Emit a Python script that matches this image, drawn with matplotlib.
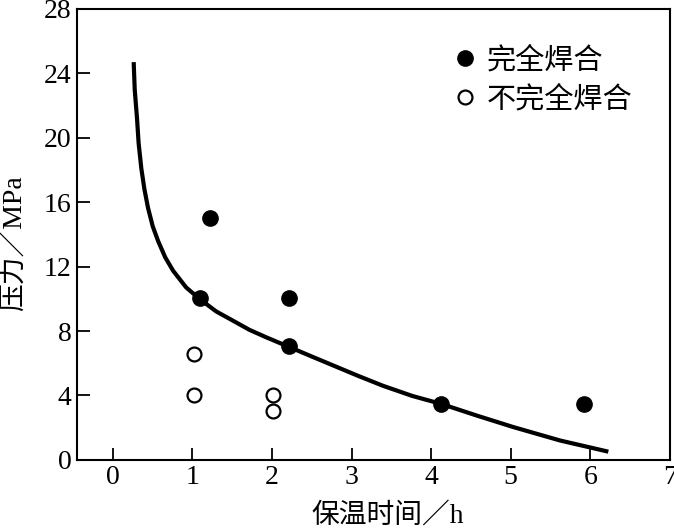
import matplotlib
matplotlib.use('Agg')
import matplotlib.pyplot as plt
from matplotlib.lines import Line2D

plt.rcParams['font.family'] = ['Liberation Serif', 'Noto Sans CJK SC']

# fitted curve
curve_t = [0.264, 0.277, 0.306, 0.326, 0.360, 0.399, 0.444, 0.503, 0.570, 0.660,
           0.760, 0.923, 1.090, 1.300, 1.509, 1.720, 1.930, 2.223, 2.496, 2.767,
           3.082, 3.396, 3.764, 4.131, 4.581, 5.031, 5.619, 6.226]
curve_p = [24.7, 23.0, 21.2, 19.67, 18.1, 16.8, 15.65, 14.51, 13.6, 12.58,
           11.74, 10.71, 10.0, 9.22, 8.65, 8.07, 7.61, 7.0, 6.43, 5.87,
           5.22, 4.60, 3.97, 3.47, 2.74, 2.04, 1.205, 0.51]

# 完全焊合
full_t = [1.22, 1.10, 2.21, 2.21, 4.12, 5.92]
full_p = [15.0, 10.05, 10.05, 7.1, 3.5, 3.5]

# 不完全焊合
part_t = [1.02, 1.02, 2.01, 2.01]
part_p = [6.55, 4.0, 4.0, 3.03]

fig = plt.figure(figsize=(6.74, 5.28), dpi=100)
ax = fig.add_axes([0.114, 0.129, 0.880, 0.854])

ax.plot(curve_t, curve_p, color='black', lw=3, solid_capstyle='butt',
        solid_joinstyle='round')
ax.plot(full_t, full_p, 'o', color='black', ms=11)
ax.plot(part_t, part_p, 'o', mfc='white', mec='black', mew=1.6, ms=10)

ax.set_xlim(-0.45, 7)
ax.set_ylim(0, 28)
ax.set_xticks(range(0, 8))
ax.set_yticks(range(0, 29, 4))
ax.tick_params(direction='in', length=9, width=1.3, labelsize=20, pad=4)
for s in ax.spines.values():
    s.set_linewidth(1.5)

ax.set_xlabel('保温时间／h', fontsize=20)
ax.set_ylabel('压力／MPa', fontsize=20)
ax.xaxis.set_label_coords(0.524, -0.094)
ax.yaxis.set_label_coords(-0.085, 0.48)

handles = [
    Line2D([0], [0], marker='o', ls='', color='black', ms=11),
    Line2D([0], [0], marker='o', ls='', mfc='white', mec='black', mew=1.6, ms=10),
]
ax.legend(handles, ['完全焊合', '不完全焊合'], loc='upper left',
          bbox_to_anchor=(0.585, 0.975), frameon=False, fontsize=21,
          handletextpad=0.25, labelspacing=0.4, handlelength=1.0)

fig.savefig('out.png', dpi=100)
